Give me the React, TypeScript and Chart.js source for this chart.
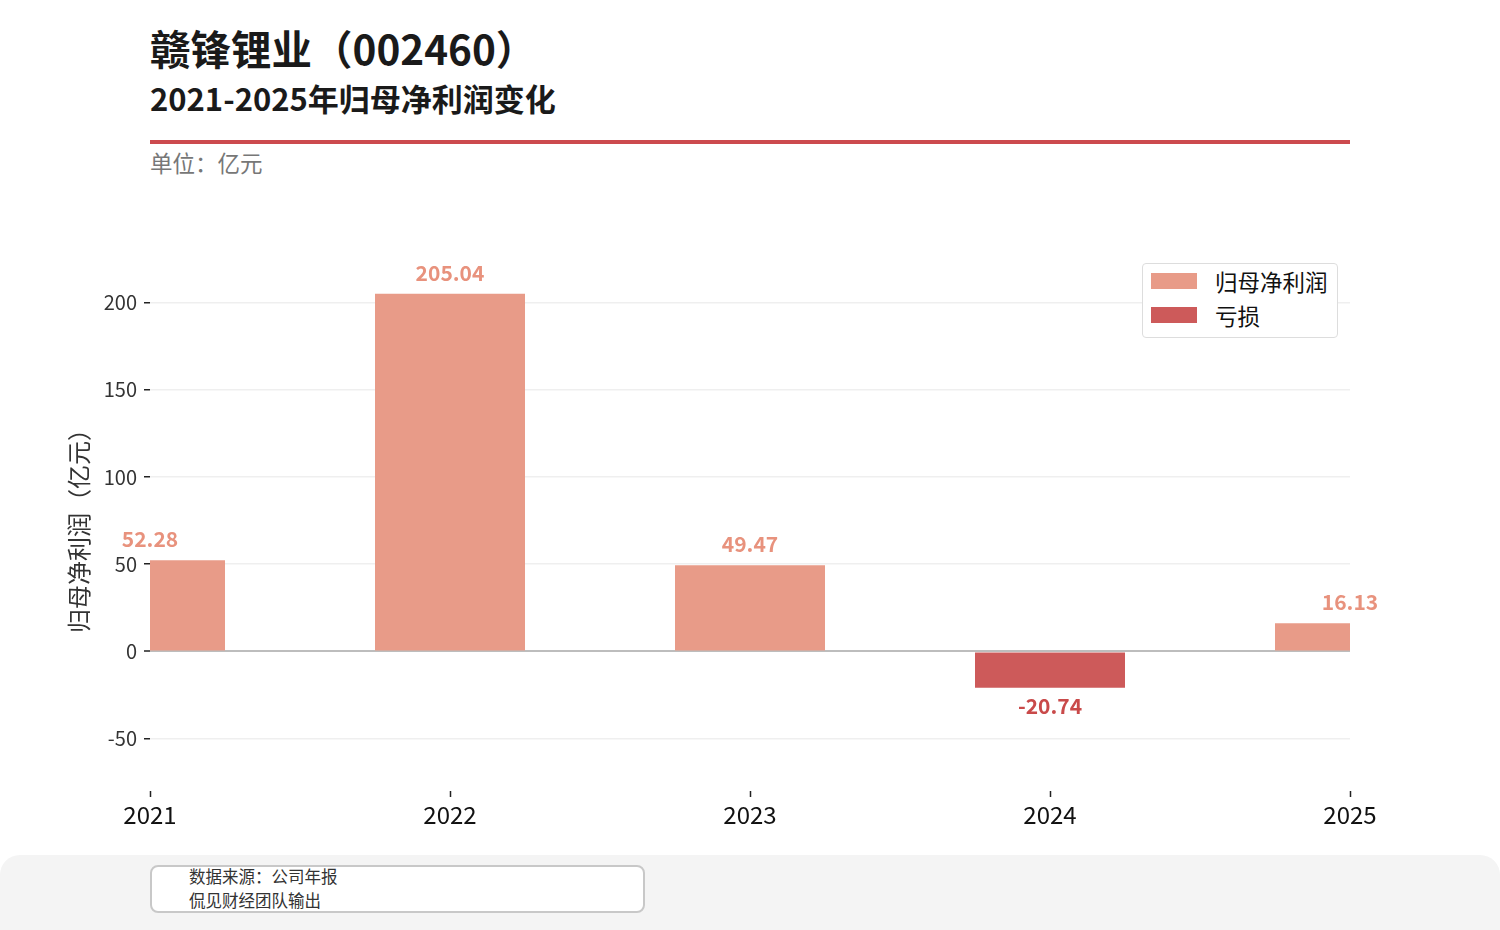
import React, { useRef, useEffect } from "react";
import { Chart, registerables } from "chart.js";

Chart.register(...registerables);

const FONT = '"Noto Sans CJK SC", "Noto Sans", sans-serif';

const years = ["2021", "2022", "2023", "2024", "2025"];
const netProfit = [52.28, 205.04, 49.47, -20.74, 16.13];
const yTicks = [-50, 0, 50, 100, 150, 200];
const seriesNames = ["归母净利润", "亏损"];
const barColors = ["#E89B88", "#CD5A5A"];
const labelColors = ["#E8927D", "#C94A4A"];

const Y_MIN = -80;
const Y_MAX = 225;

// value labels above / below each bar
const valueLabels = {
  id: "valueLabels",
  afterDatasetsDraw(chart: any) {
    const ctx = chart.ctx;
    ctx.save();
    ctx.font = `bold 21px ${FONT}`;
    ctx.textAlign = "center";
    ctx.textBaseline = "middle";
    chart.data.datasets.forEach((ds: any, di: number) => {
      const meta = chart.getDatasetMeta(di);
      meta.data.forEach((bar: any, i: number) => {
        const v = ds.data[i];
        if (v == null) return;
        ctx.fillStyle = labelColors[di];
        const y = v >= 0 ? bar.y - 21 : bar.y + 18;
        ctx.fillText(v.toFixed(2), bar.x, y);
      });
    });
    ctx.restore();
  },
};

export default function App() {
  const canvasRef = useRef<HTMLCanvasElement | null>(null);

  useEffect(() => {
    if (!canvasRef.current) return;
    const chart = new Chart(canvasRef.current, {
      type: "bar",
      data: {
        labels: years,
        datasets: [
          {
            label: seriesNames[0],
            data: netProfit.map((v) => (v >= 0 ? v : null)),
            backgroundColor: barColors[0],
            categoryPercentage: 0.5,
            barPercentage: 1,
            clip: 0,
          },
          {
            label: seriesNames[1],
            data: netProfit.map((v) => (v < 0 ? v : null)),
            backgroundColor: barColors[1],
            categoryPercentage: 0.5,
            barPercentage: 1,
            clip: 0,
          },
        ],
      },
      options: {
        animation: false,
        responsive: false,
        devicePixelRatio: 1,
        layout: { padding: { left: 0, right: 150, top: 59, bottom: 0 } },
        plugins: {
          legend: { display: false },
          tooltip: { enabled: false },
        },
        scales: {
          x: {
            stacked: true,
            offset: false,
            border: { display: false },
            grid: {
              offset: false,
              drawOnChartArea: false,
              drawTicks: true,
              tickLength: 6,
              tickColor: "#222",
              tickWidth: 1.5,
            },
            ticks: {
              color: "#111",
              font: { family: FONT, size: 24 },
              padding: 3,
              maxRotation: 0,
            },
            afterFit: (scale: any) => {
              scale.height = 59;
            },
          },
          y: {
            stacked: true,
            min: Y_MIN,
            max: Y_MAX,
            border: { display: false },
            afterBuildTicks: (scale: any) => {
              scale.ticks = yTicks.map((v) => ({ value: v }));
            },
            grid: {
              color: (c: any) => (c.tick && c.tick.value === 0 ? "#BDBDBD" : "#EFEFEF"),
              lineWidth: (c: any) => (c.tick && c.tick.value === 0 ? 2 : 1.5),
              drawTicks: true,
              tickLength: 6,
              tickColor: "#222",
              tickWidth: 1.5,
            },
            ticks: {
              color: "#333",
              font: { family: FONT, size: 20 },
              padding: 7,
            },
            title: {
              display: true,
              text: "归母净利润（亿元）",
              color: "#333",
              font: { family: FONT, size: 24 },
              padding: { top: 64, bottom: 0 },
            },
            afterFit: (scale: any) => {
              scale.width = 150;
            },
          },
        },
      },
      plugins: [valueLabels],
    });
    return () => chart.destroy();
  }, []);

  return (
    <div
      style={{
        position: "absolute",
        left: 0,
        top: 0,
        width: 1500,
        height: 930,
        overflow: "hidden",
        background: "#fff",
        fontFamily: FONT,
      }}
    >
      <div style={{ position: "absolute", left: 150, top: 20, fontSize: 40.5, fontWeight: 700, color: "#1a1a1a", lineHeight: "56px", whiteSpace: "nowrap" }}>
        赣锋锂业（002460）
      </div>
      <div style={{ position: "absolute", left: 150, top: 77, fontSize: 31, fontWeight: 700, color: "#1a1a1a", lineHeight: "42px", whiteSpace: "nowrap" }}>
        2021-2025年归母净利润变化
      </div>
      <div style={{ position: "absolute", left: 150, top: 140, width: 1200, height: 4, background: "#CC4A4E" }} />
      <div style={{ position: "absolute", left: 150, top: 147, fontSize: 22.5, color: "#777", lineHeight: "30px", whiteSpace: "nowrap" }}>
        单位：亿元
      </div>

      <canvas
        ref={canvasRef}
        width={1500}
        height={650}
        style={{ position: "absolute", left: 0, top: 200, width: 1500, height: 650 }}
      />

      {/* legend */}
      <div
        style={{
          position: "absolute",
          left: 1142,
          top: 263,
          width: 196,
          height: 75,
          boxSizing: "border-box",
          border: "1.5px solid #DDD",
          borderRadius: 4,
          background: "#fff",
        }}
      >
        {seriesNames.map((name, i) => (
          <div key={name} style={{ position: "absolute", left: 8, top: 4 + i * 34, height: 26, display: "flex", alignItems: "center" }}>
            <div style={{ width: 46, height: 16, background: barColors[i] }} />
            <div style={{ marginLeft: 18, fontSize: 22.5, color: "#111", lineHeight: "26px", whiteSpace: "nowrap" }}>{name}</div>
          </div>
        ))}
      </div>

      {/* footer */}
      <div style={{ position: "absolute", left: 0, top: 855, width: 1500, height: 100, background: "#F4F4F4", borderRadius: 20 }} />
      <div
        style={{
          position: "absolute",
          left: 150,
          top: 865,
          width: 495,
          height: 48,
          boxSizing: "border-box",
          border: "2px solid #C8C8C8",
          borderRadius: 8,
          background: "#fff",
        }}
      >
        <div style={{ position: "absolute", left: 37, top: -2, fontSize: 16.5, color: "#333", lineHeight: "22px", whiteSpace: "nowrap" }}>数据来源：公司年报</div>
        <div style={{ position: "absolute", left: 37, top: 22, fontSize: 16.5, color: "#333", lineHeight: "22px", whiteSpace: "nowrap" }}>侃见财经团队输出</div>
      </div>
    </div>
  );
}
